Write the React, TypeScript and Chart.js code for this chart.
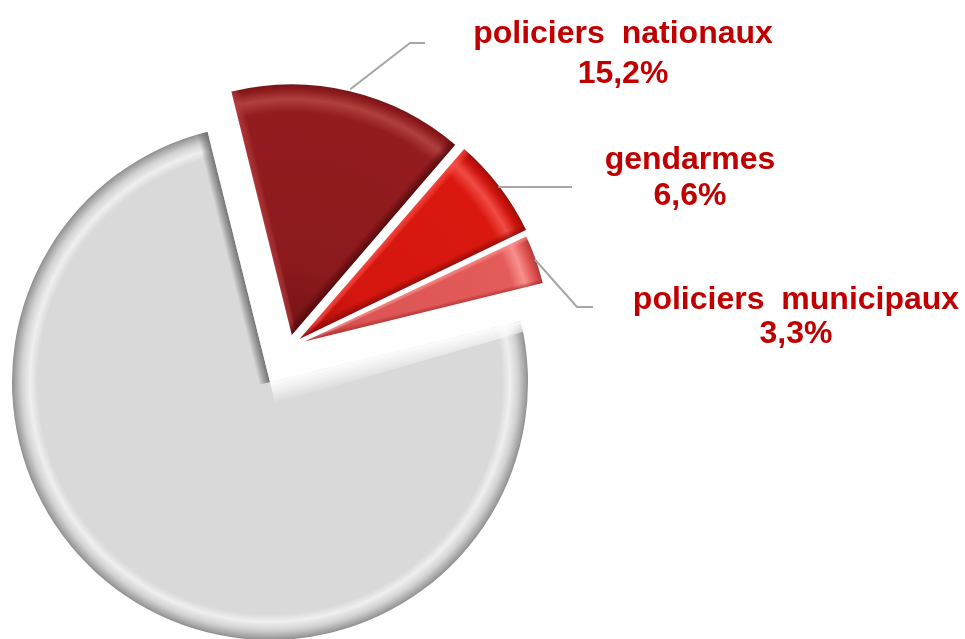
import React, { useEffect, useRef } from 'react';
import { Chart, registerables } from 'chart.js';

Chart.register(...registerables);

// ---- data ----
const categories = ['policiers nationaux', 'gendarmes', 'policiers municipaux', 'autres'];
const shares = [15.2, 6.6, 3.3, 74.9];
const isLabelled = [true, true, true, false];

// ---- layout / style ----
const W = 965;
const H = 639;
const ROTATION = -14;
const GREY_CENTER = { x: 270, y: 382 };
const GREY_RADIUS = 258;
const RED_CENTER = { x: 289, y: 347 };
const RED_RADIUS = 252;
const RED_OFFSETS = [40, 34, 24, 0];

const LABEL_LAYOUT: Array<{ elbow: number[] | null; endX: number; x: number; lines: number[] }> = [
  { elbow: [410, 43], endX: 425, x: 623, lines: [43, 83] },
  { elbow: null, endX: 572, x: 690, lines: [169, 205] },
  { elbow: [577, 307], endX: 593, x: 796, lines: [309, 343] },
];

const TEXT_COLOR = '#C00000';
const LEADER_COLOR = '#A6A6A6';

type Stops = Array<[number, string]>;
type Look = {
  stops: Stops;
  light: string; // bevel colour along the slice's first edge
  lightW: [number, number]; // width near apex / near rim
  dark: string; // bevel colour along the slice's last edge
  darkW: number;
};

const GREY_LOOK: Look = {
  stops: [[0, '#D9D9D9'], [0.9, '#D9D9D9'], [0.93, '#EFEFEF'], [0.962, '#D2D2D2'], [0.99, '#A2A2A2'], [1, '#8E8E8E']],
  light: 'rgba(252,252,252,1)',
  lightW: [22, 10],
  dark: 'rgba(110,110,110,0.95)',
  darkW: 11,
};
const RED_LOOKS: Look[] = [
  {
    stops: [[0, '#741214'], [0.3, '#8C1A1C'], [0.88, '#931C1F'], [0.93, '#B0403F'], [0.97, '#8C1A1C'], [1, '#6A1012']],
    light: 'rgba(178,60,62,0.9)',
    lightW: [6, 10],
    dark: 'rgba(80,8,10,0.95)',
    darkW: 11,
  },
  {
    stops: [[0, '#A8100B'], [0.3, '#D4160F'], [0.88, '#DA1810'], [0.93, '#F04C45'], [0.97, '#D0140E'], [1, '#A00E0A']],
    light: 'rgba(250,80,72,0.95)',
    lightW: [5, 10],
    dark: 'rgba(140,10,8,0.95)',
    darkW: 9,
  },
  {
    stops: [[0, '#C24040'], [0.3, '#DC5453'], [0.88, '#E45C5A'], [0.93, '#F7918F'], [0.97, '#E05452'], [1, '#B23836']],
    light: 'rgba(252,150,148,0.95)',
    lightW: [3, 7],
    dark: 'rgba(170,48,46,0.95)',
    darkW: 6,
  },
];

const fmt = (v: number) => v.toFixed(1).replace('.', ',') + '%';

const padFor = (c: { x: number; y: number }) => ({
  left: 0,
  right: W - 2 * c.x,
  top: 2 * c.y - H,
  bottom: 0,
});

// slice edge angles (canvas radians) derived from the shares
function sliceAngles(i: number) {
  const total = shares.reduce((a, b) => a + b, 0);
  let before = 0;
  for (let k = 0; k < i; k++) before += shares[k];
  const base = (ROTATION * Math.PI) / 180 - Math.PI / 2;
  const a0 = base + (2 * Math.PI * before) / total;
  const a1 = a0 + (2 * Math.PI * shares[i]) / total;
  return [a0, a1];
}

// texture for one slice: radial rim bevel + soft bevels along the straight edges
function makeTexture(ctx: CanvasRenderingContext2D, cx: number, cy: number, R: number, i: number, look: Look) {
  const off = document.createElement('canvas');
  off.width = W;
  off.height = H;
  const g = off.getContext('2d') as CanvasRenderingContext2D;
  const rg = g.createRadialGradient(cx, cy, 0, cx, cy, R);
  look.stops.forEach(([p, c]) => rg.addColorStop(p, c));
  g.fillStyle = rg;
  g.fillRect(0, 0, W, H);

  const [a0, a1] = sliceAngles(i);
  const strip = (theta: number, sign: number, w0: number, w1: number, color: string) => {
    const d = [Math.cos(theta), Math.sin(theta)];
    const n = [Math.cos(theta + sign * Math.PI / 2), Math.sin(theta + sign * Math.PI / 2)];
    const wm = Math.max(w0, w1);
    const lg = g.createLinearGradient(cx, cy, cx + n[0] * wm, cy + n[1] * wm);
    lg.addColorStop(0, color);
    lg.addColorStop(0.55, color.replace(/[\d.]+\)$/, (m) => String(parseFloat(m) * 0.5) + ')'));
    lg.addColorStop(1, color.replace(/[\d.]+\)$/, '0)'));
    g.fillStyle = lg;
    g.beginPath();
    g.moveTo(cx, cy);
    g.lineTo(cx + d[0] * (R + 20), cy + d[1] * (R + 20));
    g.lineTo(cx + d[0] * (R + 20) + n[0] * w1, cy + d[1] * (R + 20) + n[1] * w1);
    g.lineTo(cx + n[0] * w0, cy + n[1] * w0);
    g.closePath();
    g.fill();
  };
  strip(a0, 1, look.lightW[0], look.lightW[1], look.light);
  strip(a1, -1, look.darkW, look.darkW, look.dark);
  return ctx.createPattern(off, 'no-repeat') as CanvasPattern;
}

const labelPlugin = {
  id: 'sliceLabels',
  afterDatasetsDraw(chart: any) {
    const ctx = chart.ctx;
    const meta = chart.getDatasetMeta(0);
    meta.data.forEach((arc: any, i: number) => {
      if (!isLabelled[i]) return;
      const lay = LABEL_LAYOUT[i];
      const { x, y, startAngle, endAngle, outerRadius } = arc.getProps(
        ['x', 'y', 'startAngle', 'endAngle', 'outerRadius'],
        true
      );
      const mid = (startAngle + endAngle) / 2;
      const t = (arc.options.offset || 0) / 4;
      const r = t + outerRadius + 3;
      const sx = x + Math.cos(mid) * r;
      const sy = y + Math.sin(mid) * r;
      ctx.save();
      ctx.strokeStyle = LEADER_COLOR;
      ctx.lineWidth = 2;
      ctx.beginPath();
      ctx.moveTo(sx, sy);
      if (lay.elbow) {
        ctx.lineTo(lay.elbow[0], lay.elbow[1]);
        ctx.lineTo(lay.endX, lay.elbow[1]);
      } else {
        ctx.lineTo(lay.endX, sy);
      }
      ctx.stroke();
      ctx.fillStyle = TEXT_COLOR;
      ctx.font = 'bold 32px "Liberation Sans", Arial, sans-serif';
      ctx.textAlign = 'center';
      ctx.textBaseline = 'alphabetic';
      (ctx as any).wordSpacing = '8px';
      ctx.fillText(categories[i], lay.x, lay.lines[0]);
      (ctx as any).wordSpacing = '0px';
      ctx.fillText(fmt(shares[i]), lay.x, lay.lines[1]);
      ctx.restore();
    });
  },
};

export default function App() {
  const greyRef = useRef<HTMLCanvasElement | null>(null);
  const redRef = useRef<HTMLCanvasElement | null>(null);

  useEffect(() => {
    const greyCanvas = greyRef.current as HTMLCanvasElement;
    const redCanvas = redRef.current as HTMLCanvasElement;
    const gctx = greyCanvas.getContext('2d') as CanvasRenderingContext2D;
    const rctx = redCanvas.getContext('2d') as CanvasRenderingContext2D;

    const greyFill = makeTexture(gctx, GREY_CENTER.x, GREY_CENTER.y, GREY_RADIUS, 3, GREY_LOOK);
    const redFills = RED_LOOKS.map((look, i) =>
      makeTexture(rctx, RED_CENTER.x, RED_CENTER.y, RED_RADIUS + 4, i, look)
    );

    const common = {
      responsive: false,
      animation: false as const,
      events: [] as any[],
      rotation: ROTATION,
      plugins: { legend: { display: false }, tooltip: { enabled: false } },
    };

    const grey = new Chart(greyCanvas, {
      type: 'pie',
      data: {
        labels: categories,
        datasets: [
          {
            data: shares,
            clip: false as any,
            borderWidth: 0,
            backgroundColor: (c: any) => (isLabelled[c.dataIndex] ? 'rgba(0,0,0,0)' : greyFill),
          } as any,
        ],
      },
      options: {
        ...common,
        radius: GREY_RADIUS,
        layout: { padding: padFor(GREY_CENTER) },
      } as any,
    });

    const red = new Chart(redCanvas, {
      type: 'pie',
      data: {
        labels: categories,
        datasets: [
          {
            data: shares,
            clip: false as any,
            offset: RED_OFFSETS,
            borderColor: '#FFFFFF',
            borderWidth: (c: any) => (isLabelled[c.dataIndex] ? 2 : 0),
            backgroundColor: (c: any) => (isLabelled[c.dataIndex] ? redFills[c.dataIndex] : 'rgba(0,0,0,0)'),
          } as any,
        ],
      },
      options: {
        ...common,
        radius: RED_RADIUS,
        layout: { padding: padFor(RED_CENTER) },
      } as any,
      plugins: [labelPlugin],
    });

    return () => {
      grey.destroy();
      red.destroy();
    };
  }, []);

  return (
    <div style={{ position: 'fixed', left: 0, top: 0, width: W, height: H, background: '#FFFFFF' }}>
      <canvas ref={greyRef} width={W} height={H} style={{ position: 'absolute', left: 0, top: 0 }} />
      <canvas ref={redRef} width={W} height={H} style={{ position: 'absolute', left: 0, top: 0 }} />
    </div>
  );
}
